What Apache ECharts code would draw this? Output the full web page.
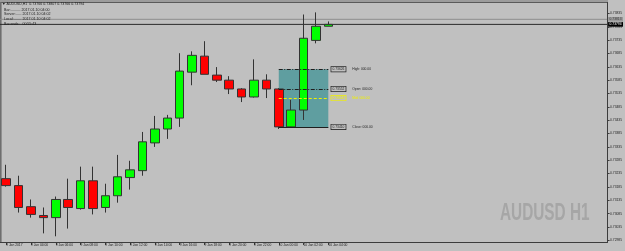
<!DOCTYPE html>
<html><head><meta charset="utf-8">
<script src="https://cdn.jsdelivr.net/npm/echarts@6/dist/echarts.min.js"></script>
<style>html,body{margin:0;padding:0;background:#c0c0c0;overflow:hidden}#c{width:625px;height:251px}</style>
</head><body><div id="c"></div><script>
// ---- data ----
const categories = ['9 Jan 2017','9 Jan 03:00','9 Jan 04:00','9 Jan 05:00','9 Jan 06:00','9 Jan 07:00','9 Jan 08:00','9 Jan 09:00','9 Jan 10:00','9 Jan 11:00','9 Jan 12:00','9 Jan 13:00','9 Jan 14:00','9 Jan 15:00','9 Jan 16:00','9 Jan 17:00','9 Jan 18:00','9 Jan 19:00','9 Jan 20:00','9 Jan 21:00','9 Jan 22:00','9 Jan 23:00','10 Jan 00:00','10 Jan 01:00','10 Jan 02:00','10 Jan 03:00','10 Jan 04:00'];
const openP  = [0.73216,0.73190,0.73111,0.73078,0.73070,0.73138,0.73104,0.73208,0.73108,0.73152,0.73220,0.73246,0.73350,0.73402,0.73443,0.73615,0.73675,0.73604,0.73585,0.73552,0.73522,0.73585,0.73552,0.73410,0.73473,0.73734,0.73787];
const closeP = [0.73190,0.73108,0.73082,0.73070,0.73138,0.73108,0.73208,0.73104,0.73152,0.73223,0.73249,0.73354,0.73402,0.73443,0.73619,0.73678,0.73607,0.73585,0.73552,0.73522,0.73585,0.73552,0.73410,0.73473,0.73742,0.73787,0.73794];
const lowP   = [0.73186,0.73089,0.73070,0.73011,0.73000,0.73029,0.73100,0.73082,0.73089,0.73126,0.73175,0.73227,0.73335,0.73365,0.73410,0.73566,0.73607,0.73578,0.73533,0.73503,0.73520,0.73518,0.73402,0.73406,0.73436,0.73723,0.73787];
const highP  = [0.73268,0.73227,0.73138,0.73108,0.73149,0.73216,0.73261,0.73261,0.73197,0.73305,0.73283,0.73391,0.73451,0.73455,0.73686,0.73693,0.73731,0.73634,0.73600,0.73555,0.73663,0.73607,0.73555,0.73511,0.73831,0.73839,0.73805];
const futureSlots = 22;
const priceTicks = [0.72985,0.73035,0.73085,0.73135,0.73185,0.73235,0.73285,0.73335,0.73385,0.73435,0.73485,0.73535,0.73585,0.73635,0.73685,0.73735,0.73785,0.73835];
const askPrice = 0.73813;
const bidPrice = 0.73794;
const levelNames  = ['High: 000.00','Open: 000.00','Mid: 000.00','Close: 000.00'];
const levelPrices = [0.73626,0.73552,0.73518,0.73410];
const boxTop = 0.73626, boxBottom = 0.73406;
const boxStartIdx = 22, boxEndIdx = 26.12;
const lineStartIdx = 21.7, lineEndIdx = 26.4;
const headerLines = ['\u25BC AUDUSD,H1  0.73766 0.73807 0.73766 0.73794','Bar:.......... 2017.01.10 04:00','Server:...... 2017.01.10 04:02','Local:........ 2017.01.10 04:02','Bar ends:   00:55:43'];
const watermark = 'AUDUSD H1';

// ---- chart ----
const FONT = 'Liberation Sans, Arial, sans-serif';
const axisData = categories.concat(new Array(futureSlots).fill(''));
const candles = categories.map((c, i) => [openP[i], closeP[i], lowP[i], highP[i]]);
const showIdx = (idx) => idx < categories.length && idx % 2 === 0;

const levelStyles = [
  {color:'#1e1e1e', type:[4,1.5,1,1.5], box:'#1e1e1e', txt:'#1e1e1e'},
  {color:'#1e1e1e', type:[4,1.5,1,1.5], box:'#1e1e1e', txt:'#1e1e1e'},
  {color:'#f0f000', type:[3,2], box:'#f0f000', txt:'#f0f000'},
  {color:'#1e1e1e', type:'solid', box:'#1e1e1e', txt:'#1e1e1e'}
];
const levelLines = levelPrices.map((p, i) => [
  {coord:[lineStartIdx, p], lineStyle:{color:levelStyles[i].color, type:levelStyles[i].type, width:1},
   label:{show:true, position:'end', distance:3,
     formatter: '{b|' + p.toFixed(5) + '}  {t|' + levelNames[i] + '}',
     rich:{
       b:{fontSize:3.3, fontFamily:FONT, color:levelStyles[i].txt, backgroundColor:'#c0c0c0', borderColor:levelStyles[i].box, borderWidth:0.7, padding:[1,1.2,0.6,1.2]},
       t:{fontSize:3.3, fontFamily:FONT, color:levelStyles[i].txt}
     }}},
  {coord:[lineEndIdx, p]}
]);
const priceLineSeries = [
  {p:askPrice, line:'#8e8e8e', fg:'#3a3a3a', bg:'#9a9a9a'},
  {p:bidPrice, line:'#2a2a2a', fg:'#ffffff', bg:'#000000'}
].map(o => ({
  type:'line', xAxisIndex:1, yAxisIndex:0, z:1, silent:true, symbol:'none',
  data:[[0, o.p],[1, o.p]],
  lineStyle:{color:o.line, width:1},
  endLabel:{show:true, distance:1, formatter:o.p.toFixed(5), fontSize:3.3, fontFamily:FONT, color:o.fg, backgroundColor:o.bg, padding:[1,1.5,0.6,1.5]}
}));

const chart = echarts.init(document.getElementById('c'), null, {renderer:'canvas'});
chart.setOption({
  animation:false,
  backgroundColor:'#c0c0c0',
  grid:{left:-4.75, right:17.25, top:2.5, bottom:8.5},
  xAxis:[{
    type:'category', data:axisData, boundaryGap:true, position:'bottom',
    axisLine:{show:true, onZero:false, lineStyle:{color:'#3c3c3c', width:1}},
    axisTick:{show:true, alignWithLabel:true, interval:(i)=>showIdx(i), length:2.5, lineStyle:{color:'#3c3c3c'}},
    axisLabel:{show:true, interval:(i)=>showIdx(i), align:'left', margin:1.5, fontSize:3.3, fontFamily:FONT, color:'#222'},
    splitLine:{show:false}
  },{
    type:'value', min:0, max:1, show:false, position:'top',
    axisLine:{show:false, onZero:false}, splitLine:{show:false}
  }],
  yAxis:{
    type:'value', position:'right', scale:true,
    min:0.729768, max:0.738760,
    axisLine:{show:true, onZero:false, lineStyle:{color:'#3c3c3c', width:1}},
    axisTick:{show:true, customValues:priceTicks, length:2.5, lineStyle:{color:'#3c3c3c'}},
    axisLabel:{show:true, customValues:priceTicks, margin:3, fontSize:3.3, fontFamily:FONT, color:'#222', formatter:(v)=>v.toFixed(5)},
    splitLine:{show:false}
  },
  series:[{
    type:'candlestick',
    data:candles,
    barWidth:9, z:3,
    itemStyle:{color:'#00ff00', color0:'#ff0000', borderColor:'#333', borderColor0:'#333', borderWidth:1},
    markArea:{
      silent:true, z:1,
      itemStyle:{color:'#5f9ea0', opacity:1},
      data:[[{coord:[boxStartIdx, boxTop]}, {coord:[boxEndIdx, boxBottom]}]]
    },
    markLine:{
      silent:true, symbol:['none','none'],
      data:levelLines
    }
  }].concat(priceLineSeries),
  graphic:[
    {type:'rect', shape:{x:0, y:0, width:608, height:2}, style:{fill:'#9c9c9c'}, silent:true},
    {type:'line', shape:{x1:0, y1:2.5, x2:608, y2:2.5}, style:{stroke:'#5a5a5a', lineWidth:1}, silent:true},
    {type:'rect', shape:{x:0, y:2, width:1.6, height:241}, style:{fill:'#6e6e6e'}, silent:true},
    {type:'text', x:500, y:213.5, scaleX:0.64, z:0, silent:true,
     style:{text:watermark, x:0, y:0, fill:'#a6a6a6', font:'bold 24px Liberation Sans, Arial, sans-serif', textVerticalAlign:'middle'}}
  ].concat(headerLines.map((t, i) => ({
    type:'text', x:(i===0?2:4), y:[4.3,9.7,14.2,18.8,24.2][i], silent:true, z:10,
    style:{text:t, fill:'#1a1a1a', font:'3.6px Liberation Sans, Arial, sans-serif', textVerticalAlign:'middle'}
  })))
});
</script></body></html>
